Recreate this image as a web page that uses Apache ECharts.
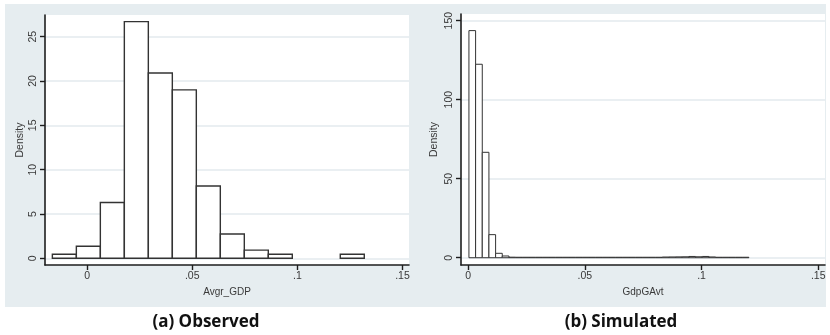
<!DOCTYPE html>
<html>
<head>
<meta charset="utf-8">
<script src="https://cdn.jsdelivr.net/npm/echarts@6/dist/echarts.min.js"></script>
<style>
html,body{margin:0;padding:0;background:#fff;}
#chart{width:830px;height:335px;}
</style>
</head>
<body>
<div id="chart"></div>
<script>
// ---- Data ----
// (a) Observed: histogram of Avgr_GDP
var obsBinStart = -0.0165;
var obsBinWidth = 0.01141;
var obsDensity = [0.45, 1.36, 6.3, 26.7, 20.9, 19.0, 8.15, 2.75, 0.92, 0.45, 0, 0, 0.45];
var obsXTicks = [0, 0.05, 0.1, 0.15];
var obsYTicks = [0, 5, 10, 15, 20, 25];

// (b) Simulated: histogram of GdpGAvt
var simBinStart = 0.0003;
var simBinWidth = 0.002857;
var simDensity = [143.7, 122.4, 66.7, 14.6, 2.8, 1.1,
  0.35, 0.3, 0.3, 0.3, 0.3, 0.3, 0.3, 0.3, 0.3, 0.3, 0.3, 0.3,
  0.3, 0.3, 0.3, 0.3, 0.3, 0.3, 0.3, 0.3, 0.3, 0.3, 0.3,
  0.45, 0.5, 0.55, 0.6, 0.8, 0.6, 0.8, 0.5, 0.3, 0.3, 0.3, 0.3, 0.3];
var simXTicks = [0, 0.05, 0.1, 0.15];
var simYTicks = [0, 50, 100, 150];

var captions = ['(a) Observed', '(b) Simulated'];
var xNames = ['Avgr_GDP', 'GdpGAvt'];
var yName = 'Density';

// ---- build ----
function bins(start, width, dens) {
  return dens.map(function (d, i) {
    return [start + i * width, start + (i + 1) * width, d];
  });
}
function stataFmt(v) {
  var s = String(+v.toFixed(4));
  if (s.indexOf('0.') === 0) s = s.slice(1);
  return s;
}
var BG = '#e6edf0';
var GRIDC = '#e3eaee';
var AXC = '#1e1e1e';
var TXT = '#3a3a3a';
var FONT = 'Liberation Sans';

function makeRender(lw) {
  return function (params, api) {
    var x0 = api.value(0), x1 = api.value(1), y = api.value(2);
    if (!(y > 0)) return null;
    var p0 = api.coord([x0, y]);
    var p1 = api.coord([x1, 0]);
    return {
      type: 'rect',
      shape: { x: p0[0], y: p0[1], width: p1[0] - p0[0], height: p1[1] - p0[1] },
      style: { fill: '#ffffff', stroke: '#333333', lineWidth: lw }
    };
  };
}
function xAxisCfg(idx, min, max, ticks, name) {
  return {
    type: 'value', gridIndex: idx, min: min, max: max,
    name: name, nameLocation: 'middle', nameGap: 17,
    nameTextStyle: { fontFamily: FONT, fontSize: 10, color: TXT },
    axisLine: { show: true, onZero: false, lineStyle: { color: AXC, width: 1.6 } },
    axisTick: { show: true, length: 5, customValues: ticks, lineStyle: { color: AXC, width: 1.4 } },
    axisLabel: { show: true, customValues: ticks, margin: 6, fontFamily: FONT, fontSize: 10.5, color: TXT,
      formatter: function (v) { return stataFmt(v); } },
    splitLine: { show: false }
  };
}
function yAxisCfg(idx, min, max, ticks, gap) {
  return {
    type: 'value', gridIndex: idx, min: min, max: max,
    name: yName, nameLocation: 'middle', nameGap: gap, nameRotate: 90,
    nameTextStyle: { fontFamily: FONT, fontSize: 10.5, color: TXT },
    axisLine: { show: true, onZero: false, lineStyle: { color: AXC, width: 1.6 } },
    axisTick: { show: true, length: 5, customValues: ticks, lineStyle: { color: AXC, width: 1.4 } },
    axisLabel: { show: true, customValues: ticks, rotate: 90, margin: 6, fontFamily: FONT, fontSize: 10.5, color: TXT,
      formatter: function (v) { return stataFmt(v); } },
    splitLine: { show: true, lineStyle: { color: GRIDC, width: 1.5 } }
  };
}

var chart = echarts.init(document.getElementById('chart'), null, { renderer: 'canvas' });
chart.setOption({
  animation: false,
  backgroundColor: '#ffffff',
  graphic: [
    { type: 'rect', z: -10, shape: { x: 5, y: 4, width: 415, height: 303 }, style: { fill: BG } },
    { type: 'rect', z: -10, shape: { x: 420, y: 4, width: 406, height: 303 }, style: { fill: BG } },
    { type: 'text', z: 5, x: 206, y: 322, style: { text: captions[0], textAlign: 'center', textVerticalAlign: 'middle', font: 'bold 17px "Open Sans"', fill: '#111' } },
    { type: 'text', z: 5, x: 621, y: 322, style: { text: captions[1], textAlign: 'center', textVerticalAlign: 'middle', font: 'bold 17px "Open Sans"', fill: '#111' } }
  ],
  grid: [
    { left: 45, top: 15, width: 364, height: 250, show: true, backgroundColor: '#ffffff', borderWidth: 0, containLabel: false },
    { left: 461, top: 14, width: 364, height: 251, show: true, backgroundColor: '#ffffff', borderWidth: 0, containLabel: false }
  ],
  xAxis: [
    xAxisCfg(0, -0.0200, 0.1531, obsXTicks, xNames[0]),
    xAxisCfg(1, -0.0031, 0.1529, simXTicks, xNames[1])
  ],
  yAxis: [
    yAxisCfg(0, -0.756, 27.45, obsYTicks, 19),
    yAxisCfg(1, -4.6, 154.2, simYTicks, 21)
  ],
  series: [
    { type: 'custom', xAxisIndex: 0, yAxisIndex: 0, encode: { x: [0, 1], y: 2 },
      renderItem: makeRender(1.4), data: bins(obsBinStart, obsBinWidth, obsDensity) },
    { type: 'custom', xAxisIndex: 1, yAxisIndex: 1, encode: { x: [0, 1], y: 2 },
      renderItem: makeRender(1.0), data: bins(simBinStart, simBinWidth, simDensity) }
  ]
});
</script>
</body>
</html>
